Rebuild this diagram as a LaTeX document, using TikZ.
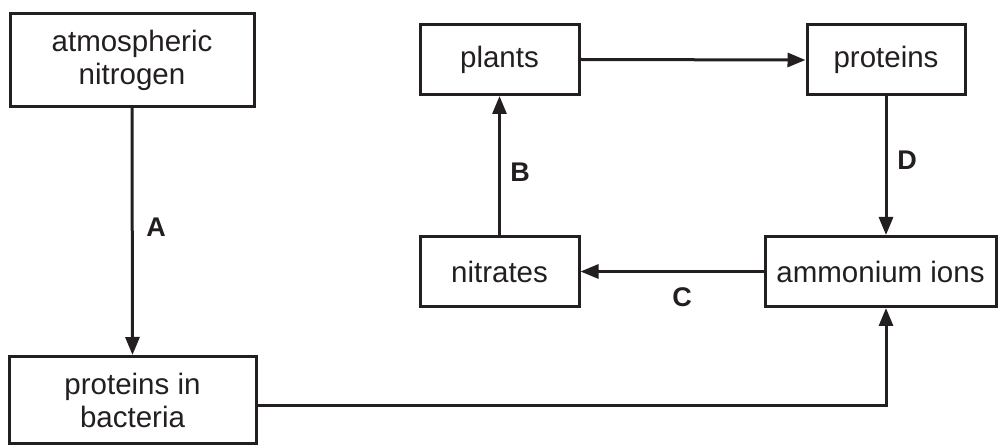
\documentclass[tikz,border=0pt]{standalone}
\usepackage{fontspec}
\setmainfont{Liberation Sans}
\usetikzlibrary{arrows.meta,calc}
\definecolor{ink}{HTML}{231F20}
\begin{document}
\begin{tikzpicture}[x=1pt,y=-1pt,
  box/.style={draw=ink,line width=3pt,align=center,text=ink,inner sep=0pt,
    font=\fontsize{29.5}{33}\selectfont},
  conn/.style={draw=ink,line width=3pt,-{Triangle[length=18pt,width=14pt]}},
  lab/.style={text=ink,font=\fontsize{27}{30}\selectfont\bfseries}]
\useasboundingbox (0,0) rectangle (999,446);
\node[box,minimum width=244pt,minimum height=93pt] (atm) at (132,60) {atmospheric\\nitrogen};
\node[box,minimum width=247pt,minimum height=87pt] (bact) at (132.5,400) {proteins in\\bacteria};
\node[box,minimum width=159pt,minimum height=70pt] (plants) at (499.5,59.5) {plants};
\node[box,minimum width=158pt,minimum height=70pt] (prot) at (886,60) {proteins};
\node[box,minimum width=159pt,minimum height=70pt] (nitr) at (499.5,271.5) {nitrates};
\node[box,minimum width=231pt,minimum height=70pt] (amm) at (880.5,271.5) {ammonium ions};
\draw[conn] (atm.south) -- (bact.north);
\draw[conn] (plants.east) -- (prot.west);
\draw[conn] (prot.south) -- (prot.south |- amm.north);
\draw[conn] (amm.west) -- (nitr.east);
\draw[conn] (nitr.north) -- (plants.south);
\draw[conn] ([yshift=-5pt]bact.east) -| (prot.south |- amm.south);
\node[lab] (la) at (156,227) {A};
\node[lab] (lb) at (520,172) {B};
\node[lab] (lc) at (682,297) {C};
\node[lab] (ld) at (907,160) {D};
\end{tikzpicture}
\end{document}
